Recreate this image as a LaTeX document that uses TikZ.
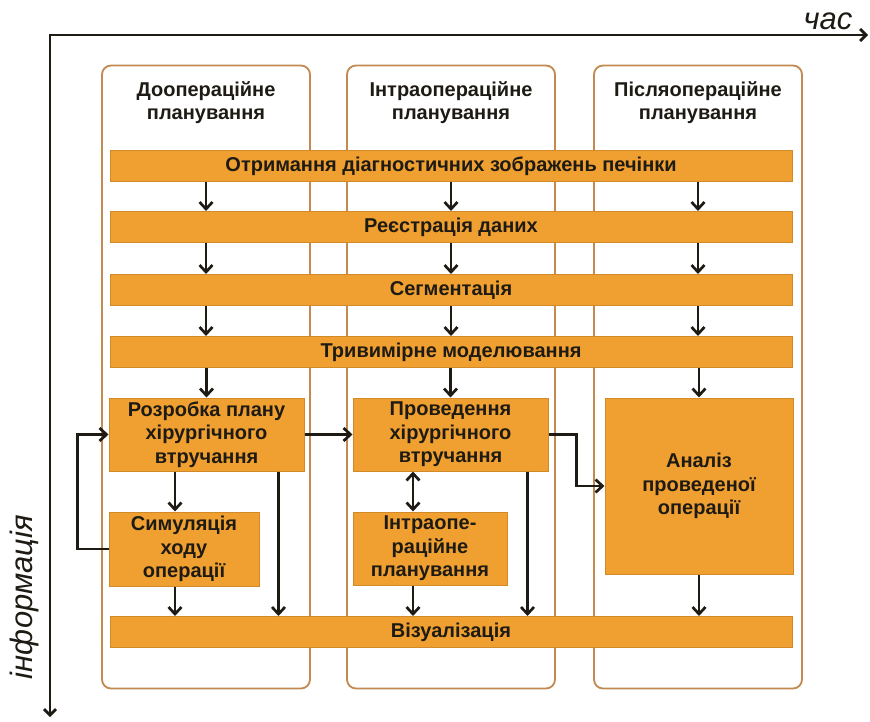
\documentclass[tikz,border=0pt]{standalone}
\usepackage{fontspec}
\setmainfont{Liberation Sans}
\usetikzlibrary{arrows.meta}

\definecolor{stageOrange}{HTML}{F0A030}
\definecolor{stageEdge}{HTML}{D28A28}
\definecolor{laneEdge}{HTML}{C28A50}
\definecolor{inkDark}{HTML}{1E1A14}

\tikzset{
  lane/.style={draw=laneEdge, line width=1.8pt, rounded corners=9pt,
    minimum width=208pt, minimum height=623pt, inner sep=0pt},
  lanehead/.style={align=center, text=inkDark, font=\fontsize{20}{23}\selectfont\bfseries},
  stagebar/.style={draw=stageEdge, fill=stageOrange, line width=1pt, inner sep=0pt,
    minimum width=682pt, minimum height=31pt, text=inkDark,
    font=\fontsize{20}{22}\selectfont\bfseries},
  stagebox/.style={draw=stageEdge, fill=stageOrange, line width=1pt, inner sep=0pt,
    align=center, text=inkDark, font=\fontsize{20}{23.5}\selectfont\bfseries},
  flow/.style={draw=inkDark, line width=2.7pt, -{Straight Barb[length=7pt,width=13pt]}},
  axis/.style={draw=inkDark, line width=2.7pt,
    {Straight Barb[length=6pt,width=12pt]}-{Straight Barb[length=6pt,width=12pt]}},
  axislabel/.style={text=inkDark, font=\fontsize{31}{33}\selectfont\itshape}
}

\begin{document}
\begin{tikzpicture}[x=1pt, y=-1pt]
  \useasboundingbox (0,0) rectangle (870,722);

  % axes
  \coordinate (origin) at (50,35);
  \coordinate (timeEnd) at (868,35);
  \coordinate (infoEnd) at (50,717);
  \draw[axis] (infoEnd) -- (origin) -- (timeEnd);
  \node[axislabel] (timeLbl) at (828,21) {час};
  \node[axislabel, rotate=90] (infoLbl) at (24,597) {інформація};

  % lanes
  \node[lane] (pre) at (206,377) {};
  \node[lane] (intraop) at (451,377) {};
  \node[lane] (post) at (698,377) {};
  \node[lanehead] (preHead) at (206,103) {Доопераційне\\планування};
  \node[lanehead] (intraHead) at (451,103) {Інтраопераційне\\планування};
  \node[lanehead] (postHead) at (698,103) {Післяопераційне\\планування};

  % common stages
  \node[stagebar] (acquire) at (451,166) {Отримання діагностичних зображень печінки};
  \node[stagebar] (register) at (451,227) {Реєстрація даних};
  \node[stagebar] (segment) at (451,290) {Сегментація};
  \node[stagebar] (model) at (451,352) {Тривимірне моделювання};
  \node[stagebar] (visual) at (451,632) {Візуалізація};

  % lane stages
  \node[stagebox, minimum width=195pt, minimum height=73pt] (plan) at (206.5,434.5) {Розробка плану\\хірургічного\\втручання};
  \node[stagebox, minimum width=150pt, minimum height=74pt] (sim) at (184,549) {Симуляція\\ходу\\операції};
  \node[stagebox, minimum width=195pt, minimum height=73pt] (surg) at (450.5,434.5) {Проведення\\хірургічного\\втручання};
  \node[stagebox, minimum width=154pt, minimum height=73pt] (intra) at (430,548.5) {Інтраопе-\\раційне\\планування};
  \node[stagebox, minimum width=188pt, minimum height=176pt] (review) at (699,486) {Аналіз\\проведеної\\операції};

  % flow down the lanes
  \foreach \a/\b in {acquire/register, register/segment, segment/model}
    \foreach \l in {pre, intraop, post}
      \draw[flow] (\a.south -| \l.center) -- (\b.north -| \l.center);
  \foreach \b in {plan, surg, review}
    \draw[flow] (model.south -| \b.north) -- (\b.north);

  \coordinate (simIn) at ([xshift=-9pt]sim.north);
  \coordinate (simOut) at ([xshift=-9pt]sim.south);
  \coordinate (planOut) at ([xshift=-26pt]plan.south east);
  \coordinate (intraIn) at ([xshift=-17pt]intra.north);
  \coordinate (intraOut) at ([xshift=-17pt]intra.south);
  \coordinate (surgOut) at ([xshift=-21pt]surg.south east);

  \draw[flow] (simIn |- plan.south) -- (simIn);
  \draw[flow] (sim.west) -- ++(-31,0) |- (plan.west);
  \draw[flow] (plan.east) -- (surg.west);
  \draw[flow] (simOut) -- (simOut |- visual.north);
  \draw[flow] (planOut) -- (planOut |- visual.north);
  \draw[flow, {Straight Barb[length=7pt,width=13pt]}-{Straight Barb[length=7pt,width=13pt]}] (intraIn |- surg.south) -- (intraIn);
  \draw[flow] (intraOut) -- (intraOut |- visual.north);
  \draw[flow] (surgOut) -- (surgOut |- visual.north);
  \draw[flow] (surg.east) -- ++(28,0) |- (review.west);
  \draw[flow] (review.south) -- (review.south |- visual.north);
\end{tikzpicture}
\end{document}
